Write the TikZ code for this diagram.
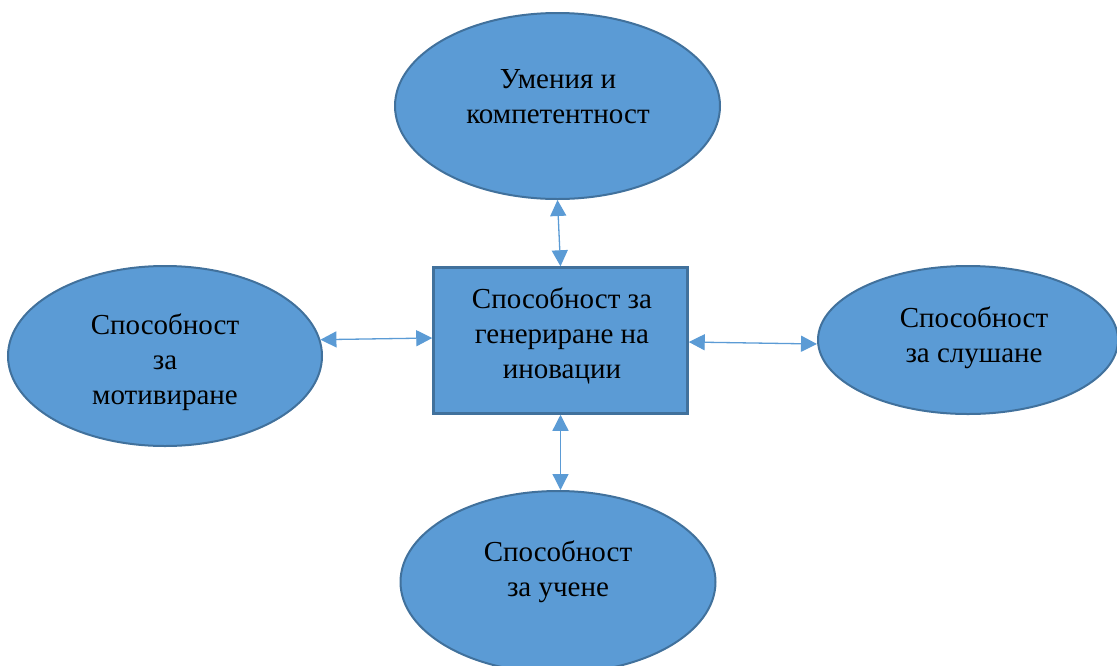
\documentclass[tikz,border=0pt]{standalone}
\usepackage{fontspec}
\setmainfont{Liberation Serif}
\usetikzlibrary{shapes.geometric,arrows.meta}
\definecolor{fillblue}{HTML}{5B9BD5}
\definecolor{edgeblue}{HTML}{41719C}
\definecolor{arrowblue}{HTML}{5B9BD5}
\begin{document}
\begin{tikzpicture}[x=1pt,y=-1pt,
  oval/.style={ellipse,draw=edgeblue,fill=fillblue,line width=2pt,inner sep=0pt},
  mainbox/.style={rectangle,draw=edgeblue,fill=fillblue,line width=2.5pt,inner sep=0pt,minimum width=254pt,minimum height=146pt},
  label/.style={align=center,font=\fontsize{29}{35}\selectfont,inner sep=0pt,anchor=base},
  link/.style={draw=arrowblue,line width=1.3pt,{Triangle[length=16pt,width=16pt]}-{Triangle[length=16pt,width=16pt]}}]
\useasboundingbox (0,0) rectangle (1117,665);
\node[oval,minimum width=325pt,minimum height=186pt] (top) at (557.5,106) {};
\node[oval,minimum width=314pt,minimum height=180pt] (left) at (165,356) {};
\node[oval,minimum width=300pt,minimum height=148pt] (right) at (968,340) {};
\node[oval,minimum width=315pt,minimum height=182pt] (bottom) at (558,582) {};
\node[mainbox] (box) at (560.5,340.5) {};
\draw[link] (top.south) -- (box.north);
\draw[link] (left.6) -- ([yshift=2.5pt]box.west);
\draw[link] ([yshift=-1.5pt]box.east) -- ([yshift=-4pt]right.west);
\draw[link] (box.south) -- ([xshift=2.5pt]bottom.north);
\node[label] (ttop) at (558,123) {Умения и\\компетентност};
\node[label] (tleft) at (165,404) {Способност\\за\\мотивиране};
\node[label] (tright) at (974,362) {Способност\\за слушане};
\node[label] (tbottom) at (558,596) {Способност\\за учене};
\node[label] (tbox) at (562,378) {Способност за\\генериране на\\иновации};
\end{tikzpicture}
\end{document}
